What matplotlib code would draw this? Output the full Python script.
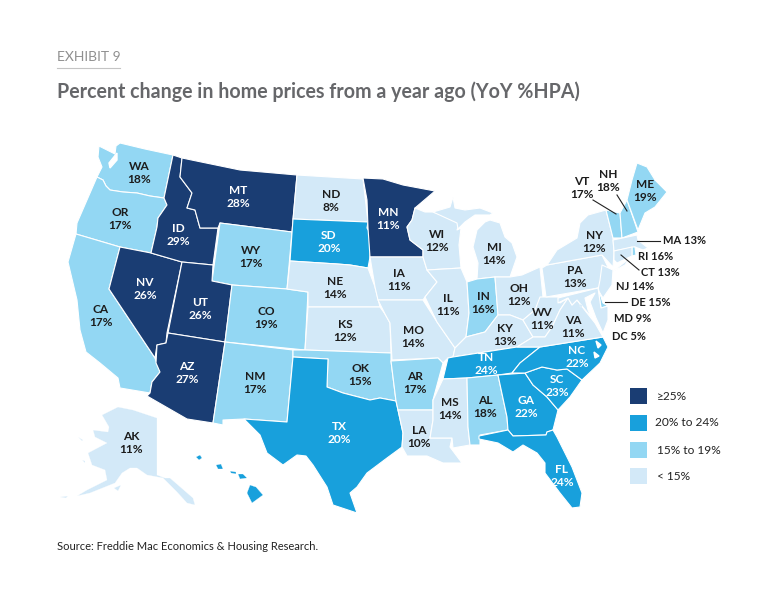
import matplotlib
matplotlib.use("Agg")
import matplotlib.pyplot as plt

plt.rcParams['font.family'] = ['Lato', 'DejaVu Sans']

# state codes and the values printed on the map
states = ['WA', 'OR', 'CA', 'NV', 'ID', 'MT', 'WY', 'UT', 'AZ', 'CO', 'NM', 'ND', 'SD', 'NE', 'KS', 'OK', 'TX',
          'MN', 'IA', 'MO', 'AR', 'LA', 'WI', 'IL', 'MI', 'IN', 'OH', 'KY', 'TN', 'MS', 'AL', 'GA', 'FL', 'SC',
          'NC', 'WV', 'VA', 'PA', 'NY', 'VT', 'NH', 'ME', 'AK', 'HI']
values = [18, 17, 17, 26, 29, 28, 17, 26, 27, 19, 17, 8, 20, 14, 12, 15, 20,
          11, 11, 14, 17, 10, 12, 11, 14, 16, 12, 13, 24, 14, 18, 22, 24, 23,
          22, 11, 11, 13, 12, 17, 18, 19, 11, 21]
# colour class as drawn (0 lightest); MN is dark in the source despite its 11%
classes = [1, 1, 1, 3, 3, 3, 1, 3, 3, 1, 1, 0, 2, 0, 0, 1, 2,
           3, 0, 0, 1, 0, 0, 0, 0, 1, 0, 0, 2, 0, 1, 2, 2, 2,
           2, 0, 0, 0, 0, 1, 1, 1, 0, 2]
small_states = ['MA', 'RI', 'CT', 'NJ', 'DE', 'MD', 'DC']
small_values = [13, 16, 13, 14, 15, 9, 5]
small_classes = [0, 1, 0, 0, 1, 0, 0]

class_colors = ['#d3e9f8', '#93d7f3', '#18a0dc', '#1a3d73']
legend_labels = ['< 15%', '15% to 19%', '20% to 24%', '≥25%']

# outlines, in image pixels
shapes = {
    'WA': [[(99, 146), (107, 150), (115, 154), (116, 146), (120, 143), (145, 149), (173, 155), (164, 198), (150, 196), (137, 193), (123, 192), (110, 190), (106, 186), (103, 180), (97, 177), (102, 167), (98, 157)]],
    'OR': [[(97, 177), (103, 180), (106, 186), (110, 190), (123, 192), (137, 193), (150, 196), (164, 198), (167, 205), (158, 218), (157, 227), (151, 253), (120, 247), (76, 234), (77, 223), (87, 200)]],
    'CA': [[(76, 234), (120, 247), (109, 289), (155, 358), (160, 372), (152, 382), (150, 393), (120, 388), (118, 378), (100, 363), (86, 352), (80, 330), (77, 300), (68, 262), (72, 248)]],
    'NV': [[(120, 247), (151, 253), (182, 262), (167, 333), (166, 343), (157, 345), (155, 358), (109, 289)]],
    'ID': [[(173, 155), (182, 158), (180, 177), (186, 185), (192, 193), (187, 208), (195, 210), (200, 228), (218, 228), (213, 265), (182, 262), (151, 253), (157, 227), (158, 218), (167, 205), (164, 198)]],
    'MT': [[(182, 158), (240, 170), (297, 175), (292, 232), (220, 223), (218, 228), (200, 228), (195, 210), (187, 208), (192, 193), (186, 185), (180, 177)]],
    'WY': [[(220, 223), (292, 232), (287, 289), (232, 285), (212, 281)]],
    'UT': [[(182, 262), (213, 265), (212, 281), (232, 285), (225, 342), (168, 333)]],
    'AZ': [[(168, 333), (225, 342), (213, 423), (187, 419), (147, 396), (150, 393), (152, 382), (160, 372), (156, 363), (157, 345), (166, 343)]],
    'CO': [[(232, 285), (287, 289), (308, 292), (305, 350), (225, 342)]],
    'NM': [[(225, 342), (293, 350), (293, 357), (287, 422), (244, 419), (223, 420), (223, 425), (213, 423)]],
    'ND': [[(297, 175), (363, 179), (368, 222), (293, 219)]],
    'SD': [[(293, 219), (368, 222), (367, 228), (370, 233), (370, 257), (368, 268), (350, 265), (337, 264), (290, 261)]],
    'NE': [[(290, 261), (337, 264), (350, 265), (368, 268), (375, 287), (380, 307), (308, 307), (308, 292), (287, 289)]],
    'KS': [[(308, 307), (380, 307), (385, 314), (390, 323), (391, 353), (305, 350)]],
    'OK': [[(293, 350), (305, 350), (391, 353), (391, 361), (396, 401), (380, 398), (370, 400), (343, 393), (327, 387), (328, 359), (293, 357)]],
    'TX': [[(293, 357), (328, 359), (327, 387), (343, 393), (370, 400), (380, 398), (396, 401), (398, 410), (403, 433), (402, 447), (387, 458), (367, 473), (357, 487), (350, 493), (357, 513), (333, 505), (327, 487), (313, 465), (306, 456), (297, 455), (283, 465), (267, 453), (260, 435), (244, 419), (287, 422)]],
    'MN': [[(363, 178), (383, 179), (403, 185), (435, 191), (415, 208), (412, 220), (407, 227), (410, 240), (423, 250), (423, 257), (370, 257), (368, 228), (367, 200)]],
    'IA': [[(370, 257), (423, 257), (427, 270), (437, 282), (425, 297), (423, 300), (378, 300), (375, 287)]],
    'MO': [[(378, 300), (423, 300), (437, 322), (455, 348), (453, 357), (448, 358), (443, 363), (438, 358), (392, 360), (390, 323), (385, 314)]],
    'AR': [[(391, 361), (438, 358), (443, 363), (433, 400), (433, 410), (398, 410), (396, 401)]],
    'LA': [[(398, 410), (433, 410), (433, 420), (430, 438), (452, 438), (450, 447), (462, 463), (443, 463), (427, 456), (407, 456), (402, 447), (403, 433)]],
    'WI': [[(415, 208), (425, 212), (433, 212), (460, 222), (457, 230), (461, 228), (459, 245), (461, 268), (427, 270), (423, 257), (423, 250), (410, 240), (407, 227), (412, 220)]],
    'IL': [[(427, 270), (461, 268), (467, 282), (469, 313), (466, 337), (455, 348), (437, 322), (425, 297), (437, 282)]],
    'MI': [[(433, 212), (450, 207), (453, 197), (455, 208), (465, 210), (480, 208), (493, 213), (490, 215), (475, 215), (465, 222), (458, 229), (457, 223)],
           [(485, 222), (490, 220), (500, 223), (505, 237), (512, 243), (517, 257), (510, 277), (495, 277), (477, 279), (478, 263), (473, 247), (477, 230)]],
    'IN': [[(467, 282), (477, 279), (495, 277), (498, 315), (485, 332), (466, 337), (469, 313)]],
    'OH': [[(495, 277), (510, 277), (522, 275), (540, 267), (543, 297), (535, 310), (523, 320), (510, 315), (498, 315)]],
    'KY': [[(466, 337), (485, 332), (498, 315), (510, 315), (523, 320), (533, 337), (517, 347), (453, 357), (455, 348)]],
    'TN': [[(448, 358), (453, 357), (517, 347), (540, 347), (520, 363), (512, 373), (498, 375), (467, 378), (443, 379)]],
    'MS': [[(443, 379), (467, 378), (468, 427), (470, 445), (453, 448), (452, 438), (430, 438), (433, 420), (433, 400)]],
    'AL': [[(467, 378), (498, 375), (507, 417), (508, 430), (480, 435), (480, 445), (470, 445), (468, 427)]],
    'GA': [[(498, 375), (525, 373), (533, 385), (547, 397), (558, 410), (553, 430), (547, 432), (546, 435), (513, 436), (508, 430), (507, 417)]],
    'FL': [[(479, 436), (508, 430), (513, 436), (546, 435), (547, 432), (553, 430), (557, 437), (572, 467), (582, 493), (580, 507), (572, 508), (560, 493), (545, 473), (545, 463), (537, 453), (523, 445), (513, 452), (498, 443), (479, 439)]],
    'SC': [[(525, 373), (542, 367), (557, 370), (567, 369), (582, 380), (570, 397), (558, 410), (547, 397), (533, 385)]],
    'NC': [[(540, 347), (603, 337), (608, 347), (600, 363), (582, 380), (567, 369), (557, 370), (542, 367), (525, 373), (512, 373), (520, 363)]],
    'WV': [[(540, 297), (543, 297), (558, 297), (560, 303), (568, 298), (560, 310), (552, 327), (545, 337), (533, 337), (523, 320), (535, 310)]],
    'VA': [[(517, 347), (533, 337), (545, 337), (552, 327), (560, 310), (568, 298), (572, 305), (577, 300), (587, 313), (595, 323), (603, 337), (540, 347)]],
    'PA': [[(542, 268), (547, 265), (602, 255), (608, 267), (605, 283), (598, 288), (546, 297)]],
    'NY': [[(547, 265), (557, 250), (577, 238), (580, 223), (588, 215), (606, 210), (613, 238), (614, 253), (613, 267), (602, 255)],
           [(612, 272), (630, 258), (625, 265)]],
    'VT': [[(606, 210), (620, 213), (622, 238), (613, 238)]],
    'NH': [[(620, 213), (627, 200), (638, 232), (622, 238)]],
    'ME': [[(627, 200), (632, 180), (637, 163), (647, 167), (655, 180), (667, 192), (655, 207), (645, 213), (638, 230)]],
    'MA': [[(613, 240), (637, 235), (638, 240), (648, 248), (643, 250), (635, 247), (614, 251)]],
    'RI': [[(632, 247), (635, 247), (636, 255), (632, 256)]],
    'CT': [[(614, 251), (632, 247), (632, 256), (617, 263), (614, 260)]],
    'NJ': [[(602, 265), (613, 270), (612, 285), (603, 298), (598, 290), (600, 280)]],
    'DE': [[(598, 288), (603, 303), (608, 306), (601, 308)]],
    'MD': [[(558, 298), (598, 288), (601, 308), (608, 306), (608, 320), (603, 333), (596, 318), (590, 302), (595, 293), (585, 298), (588, 310), (592, 318), (577, 300), (572, 305), (568, 298), (558, 303)]],
    'DC': [[(580, 304), (582, 305), (582, 307), (580, 307)]],
    'AK': [[(102, 415), (118, 407), (133, 410), (157, 418), (157, 475), (165, 478), (170, 478), (193, 498), (195, 505), (187, 503), (177, 492), (163, 478), (147, 475), (137, 468), (130, 468), (122, 473), (115, 483), (90, 493), (77, 496), (87, 490), (107, 480), (105, 470), (92, 465), (88, 453), (107, 443), (95, 437), (93, 430), (108, 432), (109, 427)],
           [(114, 488), (121, 485), (118, 491)],
           [(82, 460), (85, 461), (85, 463)],
           [(78, 437), (83, 440), (82, 441)],
           [(60, 497), (68, 496), (66, 498)]],
    'HI': [[(196, 457), (200, 455), (202, 458), (199, 460)],
           [(216, 465), (221, 464), (223, 469), (218, 469)],
           [(230, 471), (236, 472), (236, 474), (231, 473)],
           [(238, 474), (243, 474), (247, 478), (240, 479)],
           [(247, 493), (250, 485), (256, 487), (263, 495), (252, 503)]],
}

# label centres, image pixels
label_x = [139, 120, 101, 145, 178, 238, 251, 200, 187, 266, 255, 331, 329, 335, 345, 360, 339,
           388, 399, 413, 415, 419, 437, 448, 494, 483, 519, 505, 486, 450, 485, 526, 562, 557,
           577, 542, 573, 575, 594, 582, 608, 645, 131, 229]
label_y = [173, 219, 316, 289, 235, 197, 257, 309, 373, 318, 383, 201, 242, 288, 331, 375, 433,
           219, 280, 337, 383, 437, 241, 305, 254, 303, 295, 335, 364, 409, 407, 407, 476, 386,
           357, 319, 327, 277, 242, 188, 181, 191, 443, 497]
small_x = [663, 638, 641, 616, 631, 614, 612]
small_y = [241, 257, 272, 286, 302, 319, 337]

# leader lines for the crowded north-east
leaders = [((593, 200), (616, 214)), ((617, 195), (627, 211)), ((637, 241), (660, 241)),
           ((621, 255), (639, 270)), ((605, 302), (627, 302))]

fig = plt.figure(figsize=(7.74, 5.97), dpi=100)
ax = fig.add_axes([0, 0, 1, 1])
ax.set_xlim(0, 774)
ax.set_ylim(597, 0)
ax.axis('off')

all_states = states + small_states
all_classes = classes + small_classes
for st, cl in zip(all_states, all_classes):
    lw = 0.2 if st in ('AK', 'HI', 'DC') else 0.8
    for poly in shapes[st]:
        xs, ys = zip(*poly)
        ax.fill(xs, ys, facecolor=class_colors[cl], edgecolor='white', linewidth=lw, joinstyle='round', zorder=2)

# Puget Sound and the Carolina sounds
ax.fill([117, 109, 110, 117], [153, 163, 168, 160], color='white', zorder=3)
ax.fill([596, 601, 598], [341, 345, 348], color='white', zorder=3)
ax.fill([594, 599, 595], [352, 356, 358], color='white', zorder=3)

for st, val, cl, x, y in zip(states, values, classes, label_x, label_y):
    col = 'white' if cl >= 2 else '#1c1c1c'
    ax.text(x, y, f'{st}\n{val}%', ha='center', va='center', fontsize=8.6, fontweight='bold',
            color=col, linespacing=1.2, zorder=5)
for st, val, x, y in zip(small_states, small_values, small_x, small_y):
    ax.text(x, y, f'{st} {val}%', ha='left', va='center', fontsize=8.0, fontweight='bold', color='#1c1c1c', zorder=5)
for a, b in leaders:
    ax.plot([a[0], b[0]], [a[1], b[1]], color='#222222', lw=0.8, zorder=4)

# legend, drawn by hand like the original
legend_y = [476, 450, 423, 396]
legend_x = [657, 657, 655, 657]
for cl, (lab, x, y) in enumerate(zip(legend_labels, legend_x, legend_y)):
    ax.add_patch(plt.Rectangle((630, y - 8), 17, 16, facecolor=class_colors[cl], edgecolor='none', zorder=2))
    ax.text(x, y, lab, ha='left', va='center', fontsize=8.6, color='#222222')

ax.text(57, 57, 'EXHIBIT 9', ha='left', va='center', fontsize=10, color='#8f8f8f')
ax.plot([57, 120], [68, 68], color='#c4c4c4', lw=0.8)
ax.text(57, 92, 'Percent change in home prices from a year ago (YoY %HPA)', ha='left', va='center',
        fontsize=14.1, fontweight='bold', color='#66676a')
ax.text(57, 547, 'Source: Freddie Mac Economics & Housing Research.', ha='left', va='center',
        fontsize=8.05, color='#222222')

fig.savefig('out.png', dpi=100)
